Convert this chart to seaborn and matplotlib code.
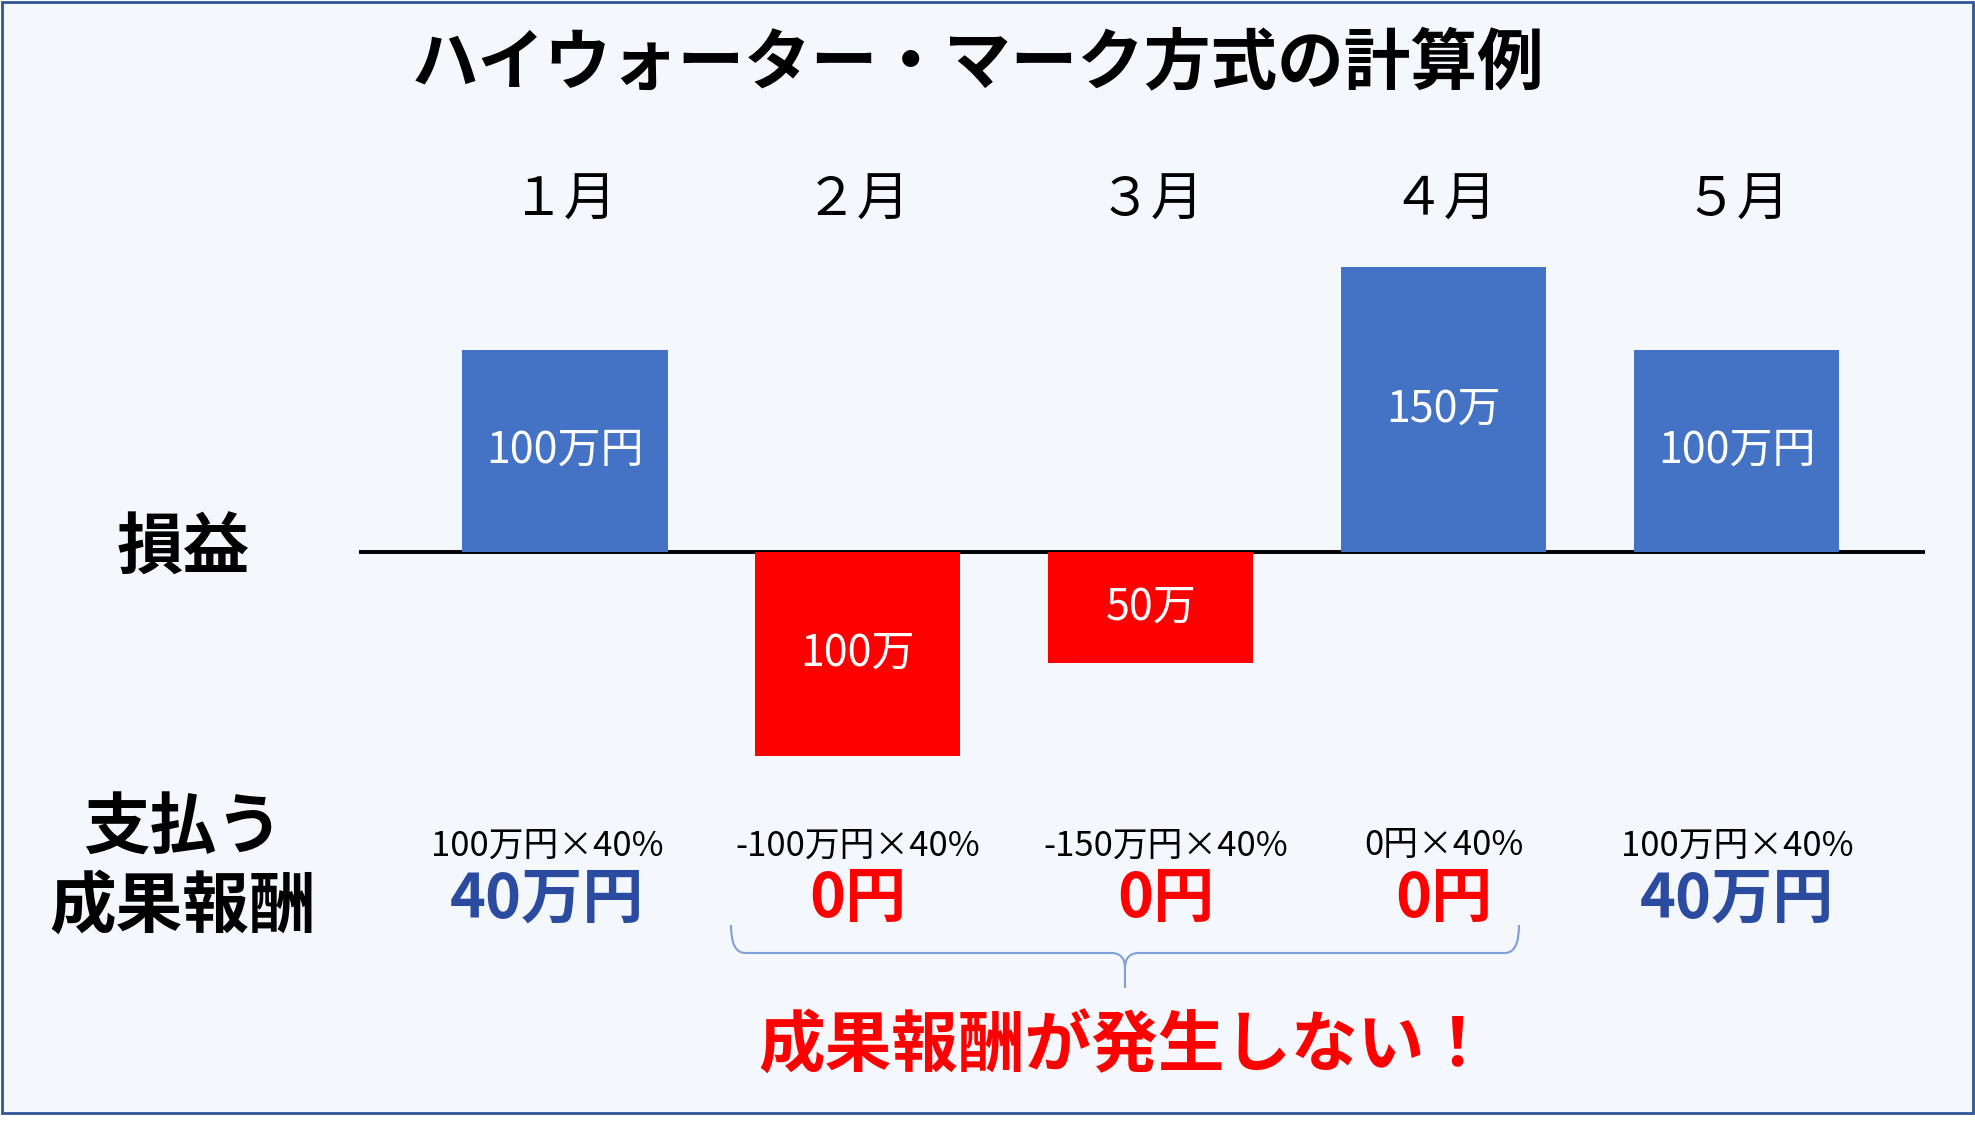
import numpy as np
import pandas as pd
import matplotlib
matplotlib.use('Agg')
import matplotlib.pyplot as plt
import seaborn as sns
from matplotlib.patches import Rectangle, PathPatch
from matplotlib.path import Path

# data
months = ['１月', '２月', '３月', '４月', '５月']
profit = [100, -101, -55, 141, 100]          # bar heights as drawn (万円)
bar_labels = ['100万円', '100万', '50万', '150万', '100万円']
fee_formula = ['100万円×40%', '-100万円×40%', '-150万円×40%', '0円×40%', '100万円×40%']
fee_amount = ['40万円', '0円', '0円', '0円', '40万円']

BLUE = '#4472C4'
RED = '#FF0000'
NAVY = '#2B4BA0'
BG = '#F4F7FC'
W, H = 1975, 1130

sns.set_style('white')
plt.rcParams['font.family'] = ['Noto Sans CJK JP', 'DejaVu Sans']
plt.rcParams['text.color'] = 'black'

fig = plt.figure(figsize=(W / 100, H / 100), dpi=100)
fig.patch.set_facecolor('white')

# background axes in pixel coordinates (frame, side labels, brace)
bg = fig.add_axes([0, 0, 1, 1])
bg.set_xlim(0, W)
bg.set_ylim(H, 0)
bg.axis('off')
bg.add_patch(Rectangle((1.5, 1.5), W - 3.5, 1111, facecolor=BG,
                       edgecolor='#2F5597', lw=2))

bg.text(978, 64, 'ハイウォーター・マーク方式の計算例', fontsize=48,
        fontweight='bold', ha='center', va='center')
bg.text(183, 549, '損益', fontsize=48, fontweight='bold', ha='center', va='center')
bg.text(183, 829, '支払う', fontsize=48, fontweight='bold', ha='center', va='center')
bg.text(183, 907, '成果報酬', fontsize=48, fontweight='bold', ha='center', va='center')
bg.text(1125, 1047, '成果報酬が発生しない！', fontsize=48, fontweight='bold',
        color=RED, ha='center', va='center')

# curly brace under months 2-4
verts = [(731, 925), (731, 953), (745, 953),
         (1111, 953), (1125, 953), (1125, 968),
         (1125, 988), (1125, 968), (1125, 953), (1139, 953),
         (1505, 953), (1519, 953), (1519, 925)]
codes = [Path.MOVETO, Path.CURVE3, Path.CURVE3,
         Path.LINETO, Path.CURVE3, Path.CURVE3,
         Path.LINETO, Path.MOVETO, Path.CURVE3, Path.CURVE3,
         Path.LINETO, Path.CURVE3, Path.CURVE3]
bg.add_patch(PathPatch(Path(verts, codes), facecolor='none',
                       edgecolor='#7F9FD8', lw=1.5))

# bar axes
x0, x1, y0, y1 = 359, 1925, 250, 780
ax = fig.add_axes([x0 / W, 1 - y1 / H, (x1 - x0) / W, (y1 - y0) / H])
ax.patch.set_alpha(0)

df = pd.DataFrame({'month': months, 'profit': profit})
colors = [BLUE if v > 0 else RED for v in profit]
sns.barplot(data=df, x='month', y='profit', hue='month', palette=colors,
            saturation=1, width=0.7, linewidth=0, legend=False, ax=ax, zorder=3)
ax.axhline(0, color='black', lw=2.8, zorder=2)
ax.set_xlim(-0.703, 4.642)
ax.set_ylim(-112.9, 149.5)
ax.axis('off')

# small horizontal nudges of the fee notes under each bar
note_dx = [-0.06, 0.0, 0.05, 0.0, 0.0]

for i, (m, v, lab, f, a) in enumerate(zip(months, profit, bar_labels,
                                           fee_formula, fee_amount)):
    ax.text(i, v / 2, lab, fontsize=31, color='white', ha='center', va='center', zorder=4)
    ax.text(i, 174, m, fontsize=38, ha='center', va='center')
    ax.text(i + note_dx[i], -145.5, f, fontsize=25, ha='center', va='center')
    ax.text(i + note_dx[i], -172, a, fontsize=44, fontweight='bold',
            color=NAVY if a != '0円' else RED, ha='center', va='center')

fig.savefig('out.png', dpi=100, facecolor='white')
